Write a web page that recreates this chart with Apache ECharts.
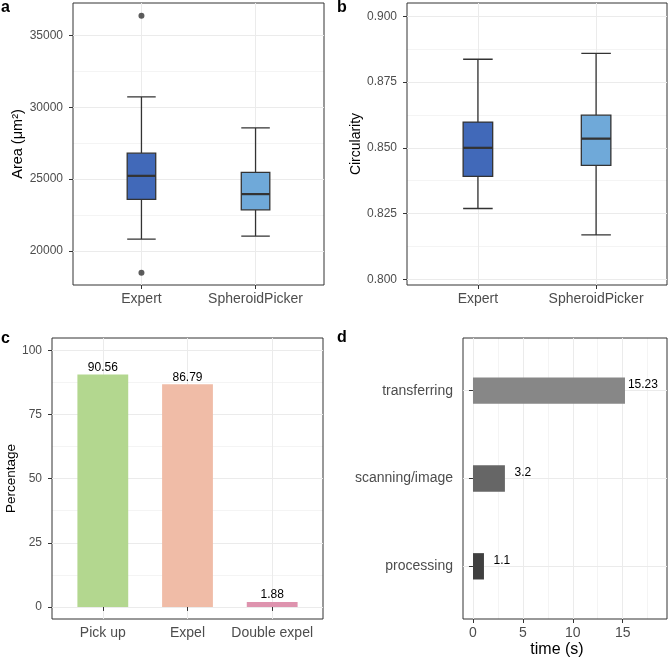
<!DOCTYPE html>
<html>
<head>
<meta charset="utf-8">
<script src="https://cdn.jsdelivr.net/npm/echarts@6/dist/echarts.min.js"></script>
<style>html,body{margin:0;padding:0;background:#fff}#c{width:668px;height:659px}</style>
</head>
<body>
<div id="c"></div>
<script>
// ---- data ----
const boxCats = ['Expert', 'SpheroidPicker'];
// [min, Q1, median, Q3, max]
const areaStats = [[20833, 23590, 25230, 26806, 30715], [21042, 22868, 23958, 25465, 28563]];
const areaOutliers = [[1, 36361], [1, 18493]];
const areaTicks = [20000, 25000, 30000, 35000];
const areaMinor = [22500, 27500, 32500];
const circStats = [[0.8269, 0.8391, 0.8500, 0.8598, 0.8837], [0.8169, 0.8433, 0.8535, 0.8624, 0.8859]];
const circTicks = [0.800, 0.825, 0.850, 0.875, 0.900];
const circMinor = [0.8125, 0.8375, 0.8625, 0.8875];
const stepCats = ['Pick up', 'Expel', 'Double expel'];
const stepPct = [90.56, 86.79, 1.88];
const pctTicks = [0, 25, 50, 75, 100];
const pctMinor = [12.5, 37.5, 62.5, 87.5];
const timeCats = ['processing', 'scanning/image', 'transferring'];
const timeVals = [1.1, 3.2, 15.23];
const timeTicks = [0, 5, 10, 15];
const timeMinor = [2.5, 7.5, 12.5, 17.5];

// ---- styles ----
const FONT = 'Liberation Sans, Arial, Helvetica, sans-serif';
const boxColors = ['#4169b9', '#6fa9d9'];
const stepColors = ['#b3d78f', '#f0bca7', '#de93ae'];
const timeColors = ['#404040', '#666666', '#878787'];
const majorLine = { show: true, lineStyle: { color: '#ebebeb', width: 1 } };
const minorLine = { show: true, lineStyle: { color: '#f4f4f4', width: 1 } };
const tickStyle = { show: true, length: 4, lineStyle: { color: '#333', width: 1 } };
const lab = (size, margin) => ({ color: '#4d4d4d', fontSize: size, fontFamily: FONT, margin });

const grids = [
  { left: 73, top: 3, width: 251, height: 282 },
  { left: 407, top: 3, width: 260, height: 282 },
  { left: 52, top: 338, width: 271, height: 281 },
  { left: 463, top: 338, width: 204, height: 282 }
].map(g => Object.assign(g, { show: true, borderColor: '#333', borderWidth: 1, backgroundColor: 'transparent' }));

function majorAxis(gridIndex, min, max, ticks, fmt, labelCfg, extra) {
  return Object.assign({
    type: 'value', gridIndex, min, max,
    axisLine: { show: false },
    axisTick: Object.assign({ customValues: ticks }, tickStyle),
    axisLabel: Object.assign({ customValues: ticks, formatter: fmt }, labelCfg),
    splitLine: majorLine
  }, extra || {});
}
function minorAxis(gridIndex, min, max, ticks) {
  return {
    type: 'value', gridIndex, min, max,
    axisLine: { show: false },
    axisTick: { show: false, customValues: ticks },
    axisLabel: { show: false, customValues: ticks },
    splitLine: minorLine, z: -1
  };
}
const yName = (name, gap, size) => ({
  name, nameLocation: 'middle', nameGap: gap, nameRotate: 90,
  nameTextStyle: { color: '#000', fontSize: size, fontFamily: FONT }
});

const xAxes = [
  majorAxis(0, 0.4, 2.6, [1, 2], v => boxCats[Math.round(v) - 1], lab(14, 7)),
  majorAxis(1, 0.4, 2.6, [1, 2], v => boxCats[Math.round(v) - 1], lab(14, 7)),
  majorAxis(2, 0.4, 3.6, [1, 2, 3], v => stepCats[Math.round(v) - 1], lab(14, 7)),
  majorAxis(3, -1, 19.44, timeTicks, v => String(v), lab(14, 7), {
    name: 'time (s)', nameLocation: 'middle', nameGap: 23,
    nameTextStyle: { color: '#000', fontSize: 16, fontFamily: FONT, padding: [0, 16, 0, 0] }
  }),
  minorAxis(3, -1, 19.44, timeMinor)
];
const yAxes = [
  majorAxis(0, 17640, 37245, areaTicks, v => String(v), lab(12, 10), yName('Area (\u03bcm\u00b2)', 45, 14.5)),
  minorAxis(0, 17640, 37245, areaMinor),
  majorAxis(1, 0.7978, 0.9051, circTicks, v => v.toFixed(3), lab(12, 10), yName('Circularity', 44, 14)),
  minorAxis(1, 0.7978, 0.9051, circMinor),
  majorAxis(2, -4.7, 104.8, pctTicks, v => String(v), lab(12, 10), yName('Percentage', 32, 13.5)),
  minorAxis(2, -4.7, 104.8, pctMinor),
  majorAxis(3, 0.4, 3.6, [1, 2, 3], v => timeCats[Math.round(v) - 1], lab(14, 10))
];
// indices: x: 0..3 major, 4 = d minor; y: 0 a, 1 a-minor, 2 b, 3 b-minor, 4 c, 5 c-minor, 6 d

function boxSeries(xi, yi, stats, gridW) {
  const bw = 0.25 * gridW / 2.2;
  const data = stats.map((s, i) => ({
    value: [i + 1].concat(s),
    itemStyle: { color: boxColors[i], borderColor: '#333', borderWidth: 1.3 }
  }));
  return [{
    type: 'boxplot', xAxisIndex: xi, yAxisIndex: yi, layout: 'horizontal',
    boxWidth: [bw, bw], data, silent: true
  }, {
    type: 'custom', xAxisIndex: xi, yAxisIndex: yi, silent: true, z: 5,
    data: stats.map((s, i) => [i + 1, s[2]]),
    renderItem: (params, api) => {
      const x = api.value(0), m = api.value(1);
      const a = api.coord([x - 0.125, m]), b = api.coord([x + 0.125, m]);
      return { type: 'line', shape: { x1: a[0], y1: a[1], x2: b[0], y2: b[1] }, style: { stroke: '#333', lineWidth: 2.2 } };
    }
  }];
}

const series = [].concat(
  boxSeries(0, 0, areaStats, 251),
  [{
    type: 'scatter', xAxisIndex: 0, yAxisIndex: 0, data: areaOutliers,
    symbolSize: 6, itemStyle: { color: '#333' }, silent: true
  }],
  boxSeries(1, 2, circStats, 260),
  [{
    type: 'bar', xAxisIndex: 2, yAxisIndex: 4, barWidth: 0.6 * 271 / 3.2,
    data: stepPct.map((v, i) => ({ value: [i + 1, v], itemStyle: { color: stepColors[i] } })),
    label: {
      show: true, position: 'top', distance: 1, color: '#000', fontSize: 12, fontFamily: FONT,
      formatter: p => String(p.value[1])
    },
    silent: true
  }, {
    type: 'custom', xAxisIndex: 3, yAxisIndex: 6, silent: true,
    data: timeVals.map((v, i) => [v, i + 1]),
    renderItem: (params, api) => {
      const v = api.value(0), y = api.value(1), i = params.dataIndex;
      const p0 = api.coord([0, y]), p1 = api.coord([v, y]);
      const h = Math.abs(api.size([0, 0.3])[1]);
      const lp = api.coord([v + 1.8, y]);
      return {
        type: 'group', children: [
          { type: 'rect', shape: { x: p0[0], y: p0[1] - h / 2, width: p1[0] - p0[0], height: h }, style: { fill: timeColors[i] } },
          { type: 'text', x: lp[0], y: lp[1] - 6, style: { text: String(timeVals[i]), fill: '#000', fontSize: 12, fontFamily: FONT, align: 'center', verticalAlign: 'middle' } }
        ]
      };
    }
  }]
);

const letters = [['a', 1, 0], ['b', 337, 0], ['c', 1, 331], ['d', 337, 330]].map(([t, x, y]) => ({
  type: 'text', left: x, top: y,
  style: { text: t, fill: '#000', fontSize: 16, fontWeight: 'bold', fontFamily: FONT }
}));

const chart = echarts.init(document.getElementById('c'), null, { renderer: 'canvas' });
chart.setOption({
  animation: false,
  backgroundColor: '#fff',
  grid: grids,
  xAxis: xAxes,
  yAxis: yAxes,
  series,
  graphic: letters
});
</script>
</body>
</html>
